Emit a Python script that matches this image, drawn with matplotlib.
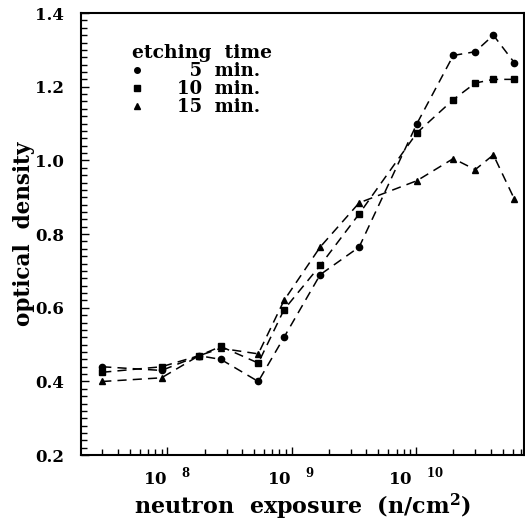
import numpy as np
import matplotlib
matplotlib.use("Agg")
import matplotlib.pyplot as plt
from matplotlib.ticker import FixedLocator, FixedFormatter, LogLocator, MultipleLocator, NullFormatter
from matplotlib.lines import Line2D

# datos
exposure = [3.0e7, 9.0e7, 1.8e8, 2.7e8, 5.4e8, 8.7e8, 1.7e9, 3.5e9,
            1.02e10, 2.0e10, 3.0e10, 4.2e10, 6.2e10]
od_5min = [0.44, 0.43, 0.47, 0.46, 0.40, 0.52, 0.69, 0.765,
           1.10, 1.285, 1.295, 1.34, 1.265]
od_10min = [0.425, 0.44, 0.47, 0.495, 0.45, 0.595, 0.715, 0.855,
            1.075, 1.165, 1.21, 1.22, 1.22]
od_15min = [0.40, 0.41, 0.47, 0.49, 0.475, 0.62, 0.765, 0.885,
            0.945, 1.005, 0.975, 1.015, 0.895]
legend_labels = ["  5  min.", "10  min.", "15  min."]
xtick_vals = [1e8, 1e9, 1e10]
xtick_labels = [r'10$^{\quad\;8}$', r'10$^{\quad\;9}$', r'10$^{\quad\;10}$']

plt.rcParams['font.family'] = 'DejaVu Serif'
plt.rcParams['font.weight'] = 'bold'
plt.rcParams['mathtext.fontset'] = 'custom'
plt.rcParams['mathtext.rm'] = 'DejaVu Serif:bold'
plt.rcParams['mathtext.bf'] = 'DejaVu Serif:bold'

fig = plt.figure(figsize=(5.25, 5.22), dpi=100)
ax = fig.add_axes([0.154, 0.128, 0.844, 0.847])

ls = (0, (6, 4))
ax.plot(exposure, od_5min, color='black', linestyle=ls, linewidth=1.1,
        marker='o', markersize=4.5)
ax.plot(exposure, od_10min, color='black', linestyle=ls, linewidth=1.1,
        marker='s', markersize=4.5)
ax.plot(exposure, od_15min, color='black', linestyle=ls, linewidth=1.1,
        marker='^', markersize=4.5)

ax.set_xscale('log')
ax.set_xlim(2.02e7, 7.4e10)
ax.set_ylim(0.2, 1.4)

ax.xaxis.set_major_locator(FixedLocator(xtick_vals))
ax.xaxis.set_major_formatter(FixedFormatter(xtick_labels))
ax.xaxis.set_minor_locator(LogLocator(base=10, subs=np.arange(2, 10)))
ax.xaxis.set_minor_formatter(NullFormatter())
ax.yaxis.set_major_locator(MultipleLocator(0.2))
ax.yaxis.set_minor_locator(MultipleLocator(0.02))
ax.yaxis.set_major_formatter(plt.FuncFormatter(lambda v, p: f"{v:.1f}"))

ax.tick_params(which='both', direction='in', top=False, right=False, width=1.0)
ax.tick_params(which='major', length=6, labelsize=12)
ax.tick_params(axis='y', which='major', pad=12)
ax.tick_params(axis='x', which='major', pad=8)
ax.tick_params(which='minor', length=4)
for s in ax.spines.values():
    s.set_linewidth(1.5)

ax.set_xlabel(r'neutron  exposure  (n/cm$^{2}$)', fontsize=16, fontweight='bold', labelpad=2)
ax.set_ylabel('optical  density', fontsize=15.5, fontweight='bold', labelpad=0)

handles = [Line2D([], [], color='black', linestyle='none', marker=m, markersize=4)
           for m in ['o', 's', '^']]
leg = ax.legend(handles, legend_labels, title='etching  time', loc='upper left',
                bbox_to_anchor=(0.115, 0.93), frameon=False, fontsize=13,
                title_fontsize=13.5, handlelength=0.6, handletextpad=1.9,
                labelspacing=0.0, borderaxespad=0.0, borderpad=0.0,
                alignment='left')
leg.get_title().set_fontweight('bold')

fig.savefig('out.png', dpi=100)
